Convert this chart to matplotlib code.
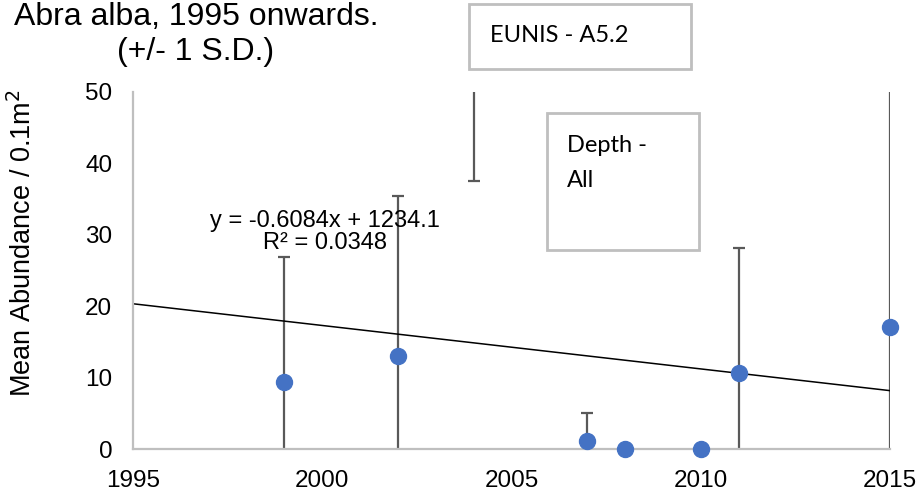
import numpy as np
import matplotlib.pyplot as plt
from matplotlib.patches import Rectangle

# data
years = [1999, 2002, 2004, 2007, 2008, 2010, 2011, 2015]
mean_abundance = [9.4, 13.0, 51.5, 1.1, 0.0, 0.0, 10.6, 17.1]
sd_abundance = [17.5, 22.5, 14.0, 3.9, 0.0, 0.0, 17.6, 40.0]

# linear trend shown on the chart
trend_slope = -0.6084
trend_intercept = 1234.1
trend_years = [1995, 2015]

x_ticks = [1995, 2000, 2005, 2010, 2015]
y_ticks = [0, 10, 20, 30, 40, 50]

W, H = 922, 495
plt.rcParams['font.family'] = ['Liberation Sans', 'DejaVu Sans']

fig = plt.figure(figsize=(W / 100, H / 100), dpi=100)
ax = fig.add_axes([133 / W, 1 - 449 / H, (890 - 133) / W, (449 - 92) / H])

def px(x, y):
    # pixel position (from top-left) -> figure fraction
    return x / W, 1 - y / H

yrs = np.array(years)
mean = np.array(mean_abundance)
sd = np.array(sd_abundance)

# error bars (clipped to the plot area, like Excel)
ax.errorbar(yrs, mean, yerr=sd, fmt='none', ecolor='#595959', elinewidth=1.6,
            capsize=4.5, capthick=1.6, zorder=2)

# markers - points above the axis max are not shown
shown = np.where(mean <= 50, mean, np.nan)
ax.plot(yrs, shown, 'o', color='#4472C4', markersize=11.5, zorder=3, clip_on=False)

# trend line
tx = np.array(trend_years)
ax.plot(tx, trend_slope * tx + trend_intercept, color='black', lw=1.1, zorder=2)

ax.set_xlim(1995, 2015)
ax.set_ylim(0, 50)
ax.set_xticks(x_ticks)
ax.set_yticks(y_ticks)
ax.tick_params(length=0, labelsize=17.5, colors='black')
ax.tick_params(axis='x', pad=15)
ax.tick_params(axis='y', pad=15)
for s in ['top', 'right']:
    ax.spines[s].set_visible(False)
for s in ['left', 'bottom']:
    ax.spines[s].set_color('#bfbfbf')
    ax.spines[s].set_linewidth(1.6)

ax.text(2000.07, 30.4, 'y = -0.6084x + 1234.1\nR² = 0.0348', ha='center', va='center',
        fontsize=17, linespacing=1.0)

fig.text(*px(23, 243), 'Mean Abundance / 0.1m$^2$', rotation=90, ha='center', va='center',
         fontsize=19.5)

fig.text(*px(196, 25), 'Abra alba, 1995 onwards.', ha='center', va='baseline', fontsize=23)
fig.text(*px(196, 60), '(+/- 1 S.D.)', ha='center', va='baseline', fontsize=23)

# annotation boxes
for (x0, y0, x1, y1) in [(469, 4, 691, 69), (547, 113, 699, 250)]:
    fig.patches.append(Rectangle(px(x0, y1), (x1 - x0) / W, (y1 - y0) / H,
                                 transform=fig.transFigure, fill=False,
                                 edgecolor='#bfbfbf', lw=2))
fig.text(*px(490, 42), 'EUNIS - A5.2', ha='left', va='baseline', fontsize=17, family='Lato')
fig.text(*px(567, 152), 'Depth -', ha='left', va='baseline', fontsize=17, family='Lato')
fig.text(*px(567, 187), 'All', ha='left', va='baseline', fontsize=17, family='Lato')

fig.savefig('out.png', dpi=100)
